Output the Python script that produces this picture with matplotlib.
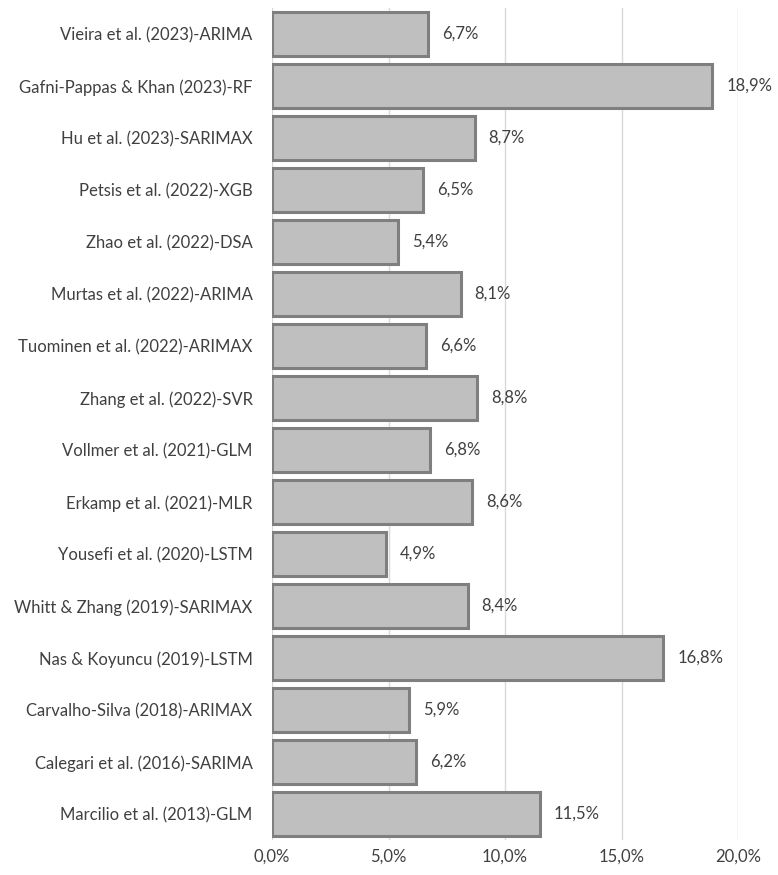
import matplotlib
matplotlib.use("Agg")
import matplotlib.pyplot as plt

categories = [
    "Vieira et al. (2023)-ARIMA",
    "Gafni-Pappas & Khan (2023)-RF",
    "Hu et al. (2023)-SARIMAX",
    "Petsis et al. (2022)-XGB",
    "Zhao et al. (2022)-DSA",
    "Murtas et al. (2022)-ARIMA",
    "Tuominen et al. (2022)-ARIMAX",
    "Zhang et al. (2022)-SVR",
    "Vollmer et al. (2021)-GLM",
    "Erkamp et al. (2021)-MLR",
    "Yousefi et al. (2020)-LSTM",
    "Whitt & Zhang (2019)-SARIMAX",
    "Nas & Koyuncu (2019)-LSTM",
    "Carvalho-Silva (2018)-ARIMAX",
    "Calegari et al. (2016)-SARIMA",
    "Marcilio et al. (2013)-GLM",
]
values = [6.7, 18.9, 8.7, 6.5, 5.4, 8.1, 6.6, 8.8, 6.8, 8.6, 4.9, 8.4, 16.8, 5.9, 6.2, 11.5]
xticks = [0, 5, 10, 15, 20]

plt.rcParams['font.family'] = ['Lato', 'DejaVu Sans']
txt = '#404040'

fig = plt.figure(figsize=(7.78, 8.75), dpi=100)
ax = fig.add_axes([272/778, 1-840/875, (738-272)/778, (840-8)/875])

ypos = list(range(len(categories)))
bars = ax.barh(ypos, values, height=0.83, color='#bfbfbf', edgecolor='#7f7f7f', linewidth=2.2, zorder=3)
ax.set_ylim(len(categories)-0.5, -0.5)
ax.set_xlim(0, 20)
ax.set_yticks(ypos)
ax.set_yticklabels(categories, fontsize=12, color=txt)
ax.set_xticks(xticks)
ax.set_xticklabels([f"{v:.1f}%".replace('.', ',') for v in xticks], fontsize=12, color=txt)
ax.tick_params(axis='both', length=0)
ax.tick_params(axis='y', pad=14)
ax.tick_params(axis='x', pad=6)
ax.grid(axis='x', color='#d9d9d9', linewidth=1, zorder=0)
for s in ax.spines.values():
    s.set_visible(False)
ax.bar_label(bars, labels=[f"{v:.1f}%".replace('.', ',') for v in values], padding=10, fontsize=12, color=txt, clip_on=False)

fig.savefig("out.png", dpi=100)
